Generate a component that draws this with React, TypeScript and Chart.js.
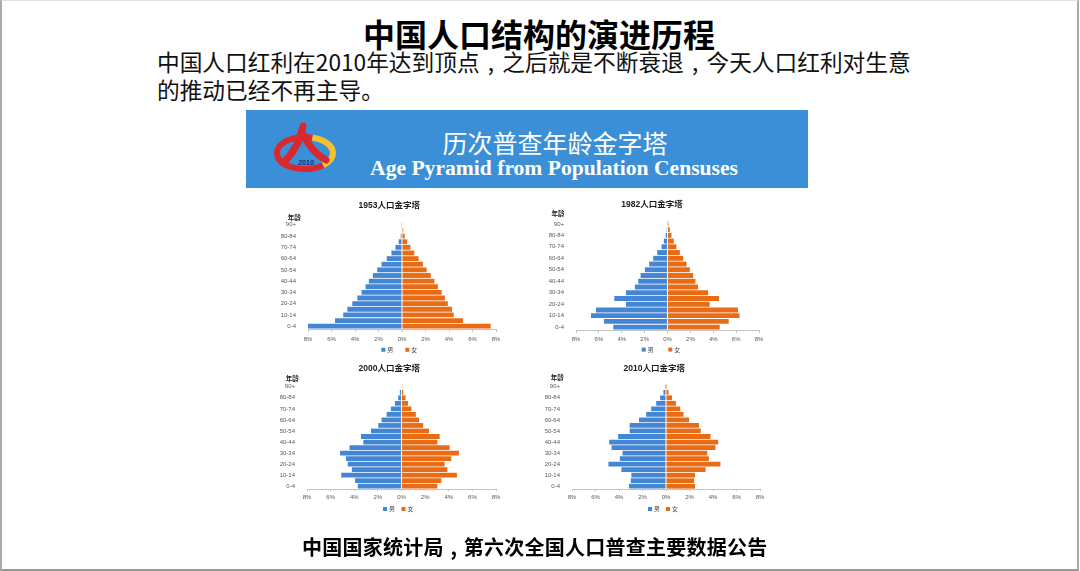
import React, { useEffect, useRef } from 'react';
import { Chart, registerables } from 'chart.js';

Chart.register(...registerables);

// ---------- data ----------
const ageGroups = ['0-4', '5-9', '10-14', '15-19', '20-24', '25-29', '30-34', '35-39', '40-44', '45-49', '50-54', '55-59', '60-64', '65-69', '70-74', '75-79', '80-84', '85-89', '90+'];
const sexLabels = ['男', '女'];
const xTickValues = [-8, -6, -4, -2, 0, 2, 4, 6, 8];
const chartTitles = ['1953人口金字塔', '1982人口金字塔', '2000人口金字塔', '2010人口金字塔'];

const male1953 = [8.0, 5.7, 5.0, 4.65, 4.23, 3.8, 3.44, 3.1, 2.82, 2.48, 2.11, 1.75, 1.3, 0.9, 0.56, 0.28, 0.11, 0.05, 0.02];
const female1953 = [7.55, 5.2, 4.4, 4.25, 3.9, 3.65, 3.38, 3.05, 2.76, 2.45, 2.1, 1.78, 1.41, 1.05, 0.72, 0.45, 0.23, 0.1, 0.04];

const male1982 = [4.74, 5.55, 6.69, 6.25, 3.63, 4.65, 3.63, 2.85, 2.56, 2.35, 1.98, 1.6, 1.25, 0.9, 0.52, 0.32, 0.15, 0.07, 0.02];
const female1982 = [4.56, 5.35, 6.3, 6.16, 3.69, 4.5, 3.55, 2.67, 2.44, 2.24, 1.95, 1.66, 1.37, 1.08, 0.78, 0.55, 0.35, 0.2, 0.08];

const male2000 = [3.7, 3.93, 5.1, 4.2, 4.55, 4.7, 5.2, 4.4, 3.23, 3.43, 2.58, 1.97, 1.69, 1.26, 0.9, 0.56, 0.28, 0.14, 0.05];
const female2000 = [3.03, 3.37, 4.69, 3.88, 3.65, 4.21, 4.86, 4.07, 3.03, 3.23, 2.33, 1.83, 1.49, 1.21, 0.84, 0.56, 0.34, 0.14, 0.06];

const male2010 = [3.15, 3.0, 2.95, 3.8, 4.9, 3.93, 3.7, 4.63, 4.83, 4.07, 3.09, 3.09, 2.3, 1.69, 1.26, 0.84, 0.5, 0.22, 0.08];
const female2010 = [2.47, 2.39, 2.47, 3.37, 4.63, 3.65, 3.51, 4.21, 4.44, 3.79, 2.95, 2.81, 1.97, 1.49, 1.21, 0.84, 0.51, 0.22, 0.08];

// ---------- styles ----------
const BLUE = '#4486d6';
const ORANGE = '#e96b14';
const FONT = '"Liberation Sans", "Noto Sans CJK SC", sans-serif';
const CJK = '"Noto Sans CJK SC", "Liberation Sans", sans-serif';

const PADL = 50;
const PADT = 30;
const PADR = 20;
const PADB = 30;
const XH = 12;

type PyrProps = {
  title: string;
  male: number[];
  female: number[];
  l: number; r: number; t: number; b: number;
  titleX: number; titleY: number;
  ageX: number; ageY: number;
  legX: number; legGap: number; legY: number;
  tickLen: number; tickPad: number;
};

function Pyramid(p: PyrProps) {
  const ref = useRef<HTMLCanvasElement | null>(null);
  const W = Math.round(p.r - p.l + PADL + PADR);
  const H = Math.round(p.b - p.t + PADT + PADB);
  const cl = p.l - PADL;
  const ct = p.t - PADT;

  useEffect(() => {
    if (!ref.current) return;
    const overlay = {
      id: 'overlay',
      afterDraw(chart: any) {
        const ctx = chart.ctx as CanvasRenderingContext2D;
        ctx.save();
        ctx.fillStyle = '#1a1a1a';
        ctx.textAlign = 'center';
        ctx.textBaseline = 'middle';
        ctx.font = `bold 8.5px ${FONT}`;
        ctx.fillText(p.title, p.titleX - cl, p.titleY - ct);
        ctx.font = `bold 6.5px ${CJK}`;
        ctx.fillText('年龄', p.ageX - cl, p.ageY - ct);
        chart.data.datasets.forEach((ds: any, i: number) => {
          const x = p.legX - cl + i * p.legGap;
          const y = p.legY - ct;
          ctx.fillStyle = ds.backgroundColor;
          ctx.fillRect(x, y - 2, 4, 4);
          ctx.fillStyle = '#444';
          ctx.textAlign = 'left';
          ctx.font = `6px ${CJK}`;
          ctx.fillText(ds.label, x + 6, y);
        });
        ctx.restore();
      },
    };

    const chart = new Chart(ref.current, {
      type: 'bar',
      data: {
        labels: ageGroups,
        datasets: [
          { label: sexLabels[0], data: p.male.map((v) => -v), backgroundColor: BLUE, borderWidth: 0 },
          { label: sexLabels[1], data: p.female, backgroundColor: ORANGE, borderWidth: 0 },
        ],
      },
      options: {
        indexAxis: 'y',
        animation: false,
        responsive: false,
        maintainAspectRatio: false,
        devicePixelRatio: 1,
        layout: { padding: { left: 0, top: PADT, right: PADR, bottom: PADB - XH } },
        datasets: { bar: { barPercentage: 0.86, categoryPercentage: 1 } },
        plugins: {
          legend: { display: false },
          title: { display: false },
          tooltip: { enabled: false },
        },
        scales: {
          x: {
            type: 'linear',
            stacked: true,
            min: -8,
            max: 8,
            afterBuildTicks: (s: any) => {
              s.ticks = xTickValues.map((v) => ({ value: v }));
            },
            afterFit: (s: any) => {
              s.height = XH;
            },
            ticks: {
              callback: (v: any) => Math.abs(Number(v)) + '%',
              font: { size: 6, family: FONT },
              color: '#595959',
              padding: p.tickPad,
              maxRotation: 0,
            },
            grid: { display: true, drawOnChartArea: false, drawTicks: true, tickLength: p.tickLen, color: '#c4c4c4' },
            border: { display: true, color: '#c4c4c4' },
          },
          y: {
            type: 'category',
            stacked: true,
            reverse: true,
            afterFit: (s: any) => {
              s.width = PADL;
            },
            grid: { display: false },
            border: { display: false },
            ticks: {
              autoSkip: false,
              callback: (_v: any, i: number) => (i % 2 === 0 ? ageGroups[i] : ''),
              font: { size: 6, family: FONT },
              color: '#595959',
              padding: 4,
            },
          },
        },
      } as any,
      plugins: [overlay],
    });
    return () => chart.destroy();
  }, []);

  return (
    <canvas
      ref={ref}
      width={W}
      height={H}
      style={{ position: 'absolute', left: cl, top: ct, width: W, height: H }}
    />
  );
}

function Logo() {
  const cx = 59, cy = 43, rx = 28, ry = 16;
  const pt = (deg: number) => {
    const a = (deg * Math.PI) / 180;
    return `${cx + rx * Math.cos(a)} ${cy + ry * Math.sin(a)}`;
  };
  return (
    <svg width={100} height={78} viewBox="0 0 100 78" style={{ position: 'absolute', left: 0, top: 0 }}>
      <path d={`M ${pt(-75)} A ${rx} ${ry} 0 0 1 ${pt(50)}`} fill="none" stroke="#f3c230" strokeWidth={6} />
      <path d={`M ${pt(50)} A ${rx} ${ry} 0 1 1 ${pt(-75)}`} fill="none" stroke="#d9282f" strokeWidth={6} />
      <path d="M 57 16 Q 53 38 37 53" fill="none" stroke="#d9282f" strokeWidth={7} strokeLinecap="round" />
      <path d="M 57 24 Q 65 42 80 50" fill="none" stroke="#d9282f" strokeWidth={7} strokeLinecap="round" />
      <text x={60} y={55} textAnchor="middle" fontSize={7} fontWeight="bold" fontStyle="italic" fill="#1d2f7c" fontFamily={FONT}>2010</text>
    </svg>
  );
}

// full-width comma drawn centred in its cell, as in the reference
const Comma = () => (
  <span style={{ display: 'inline-block', width: '1em', textAlign: 'center' }}>,</span>
);

export default function App() {
  return (
    <div style={{ position: 'absolute', left: 0, top: 0, width: 1080, height: 571, background: '#fff', overflow: 'hidden' }}>
      <div
        style={{
          position: 'absolute', left: 0, top: 0, width: 1079, height: 571, boxSizing: 'border-box',
          borderLeft: '2px solid #aaa', borderRight: '2px solid #aaa', borderBottom: '2px solid #999', borderTop: '1px solid #e0e0e0',
        }}
      />
      <div style={{ position: 'absolute', left: 363, top: 17, fontFamily: CJK, fontWeight: 700, fontSize: 32, lineHeight: '32px', color: '#000', whiteSpace: 'nowrap' }}>
        中国人口结构的演进历程
      </div>
      <div style={{ position: 'absolute', left: 157, top: 48, fontFamily: CJK, fontSize: 22.7, lineHeight: '27.5px', color: '#111', whiteSpace: 'nowrap' }}>
        中国人口红利在2010年达到顶点<Comma />之后就是不断衰退<Comma />今天人口红利对生意
        <br />
        的推动已经不再主导。
      </div>

      <div style={{ position: 'absolute', left: 246, top: 110, width: 562, height: 78, background: '#3b8fd6' }}>
        <Logo />
        <div style={{ position: 'absolute', left: 0, width: 618, top: 18, textAlign: 'center', fontFamily: CJK, fontSize: 25, lineHeight: '28px', color: '#fff', whiteSpace: 'nowrap' }}>
          历次普查年龄金字塔
        </div>
        <div style={{ position: 'absolute', left: 0, width: 616, top: 46, textAlign: 'center', fontFamily: '"Liberation Serif", "DejaVu Serif", serif', fontWeight: 700, fontSize: 21.6, lineHeight: '24px', color: '#fff', whiteSpace: 'nowrap' }}>
          Age Pyramid from Population Censuses
        </div>
      </div>

      <Pyramid title={chartTitles[0]} male={male1953} female={female1953}
        l={307.7} r={495.7} t={222.2} b={328.8}
        titleX={389} titleY={206} ageX={294} ageY={217.5}
        legX={381} legGap={24} legY={350} tickLen={3} tickPad={3.5} />
      <Pyramid title={chartTitles[1]} male={male1982} female={female1982}
        l={576} r={759.3} t={220.9} b={329.5}
        titleX={652} titleY={205} ageX={558} ageY={213}
        legX={641.7} legGap={26.6} legY={349.5} tickLen={3} tickPad={3} />
      <Pyramid title={chartTitles[2]} male={male2000} female={female2000}
        l={306.7} r={495.7} t={384} b={488.8}
        titleX={389} titleY={369} ageX={292} ageY={378.3}
        legX={382.7} legGap={18.5} legY={509} tickLen={2} tickPad={2.3} />
      <Pyramid title={chartTitles[3]} male={male2010} female={female2010}
        l={571.7} r={760} t={384} b={489}
        titleX={654} titleY={369} ageX={557} ageY={378}
        legX={647.7} legGap={18} legY={509} tickLen={2} tickPad={2.3} />

      <div style={{ position: 'absolute', left: 302, top: 536, fontFamily: CJK, fontWeight: 700, fontSize: 20, letterSpacing: '0.25px', lineHeight: '22px', color: '#000', whiteSpace: 'nowrap' }}>
        中国国家统计局<Comma />第六次全国人口普查主要数据公告
      </div>
    </div>
  );
}
